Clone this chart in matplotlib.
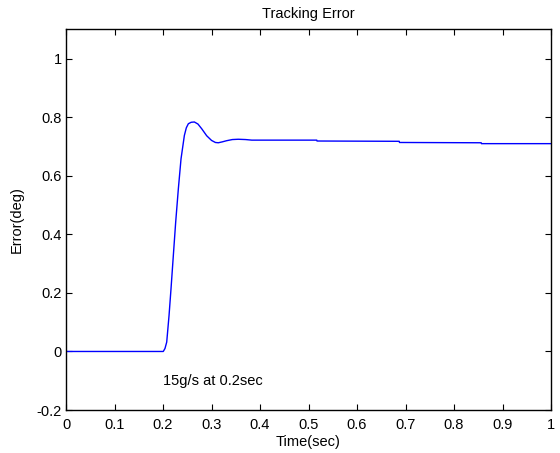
import matplotlib
matplotlib.use("Agg")
import matplotlib.pyplot as plt

# tracking error response
time_s = [0.0, 0.2005, 0.2040, 0.2076, 0.2124, 0.2165, 0.2213, 0.2261, 0.2316,
          0.2371, 0.2440, 0.2480, 0.2522, 0.2580, 0.2646, 0.2720, 0.2797, 0.2900,
          0.3000, 0.3080, 0.3140, 0.3220, 0.3310, 0.3430, 0.3550, 0.3700, 0.3830,
          0.5170, 0.5175, 0.6870, 0.6875, 0.8560, 0.8565, 1.0]
error_deg = [0.0, 0.0, 0.010, 0.032, 0.123, 0.215, 0.329, 0.442, 0.556,
             0.658, 0.738, 0.764, 0.778, 0.783, 0.784, 0.777, 0.761, 0.737,
             0.721, 0.714, 0.713, 0.716, 0.720, 0.724, 0.725, 0.724, 0.722,
             0.722, 0.719, 0.718, 0.714, 0.713, 0.710, 0.710]

x_ticks = [0, 0.1, 0.2, 0.3, 0.4, 0.5, 0.6, 0.7, 0.8, 0.9, 1]
x_labels = ["0", "0.1", "0.2", "0.3", "0.4", "0.5", "0.6", "0.7", "0.8", "0.9", "1"]
y_ticks = [-0.2, 0, 0.2, 0.4, 0.6, 0.8, 1]
y_labels = ["-0.2", "0", "0.2", "0.4", "0.6", "0.8", "1"]

plt.rcParams["font.family"] = ["Liberation Sans", "DejaVu Sans"]
plt.rcParams["font.size"] = 10.5

fig = plt.figure(figsize=(5.6, 4.53), dpi=100)
ax = fig.add_axes([0.1179, 0.0949, 0.8661, 0.84])

ax.plot(time_s, error_deg, color="#0000ff", linewidth=1.0)
ax.text(0.2, -0.1, "15g/s at 0.2sec", ha="left", va="center")

ax.set_xlim(0, 1)
ax.set_ylim(-0.2, 1.1)
ax.set_xticks(x_ticks)
ax.set_xticklabels(x_labels)
ax.set_yticks(y_ticks)
ax.set_yticklabels(y_labels)
ax.tick_params(direction="in", length=4, width=0.8, top=True, right=True)
ax.tick_params(axis="x", pad=6)
ax.tick_params(axis="y", pad=3)
for s in ax.spines.values():
    s.set_linewidth(1.0)

ax.set_title("Tracking Error", fontsize=10.5, pad=8)
ax.set_xlabel("Time(sec)", labelpad=2)
ax.set_ylabel("Error(deg)", labelpad=9)

fig.savefig("out.png", dpi=100)
